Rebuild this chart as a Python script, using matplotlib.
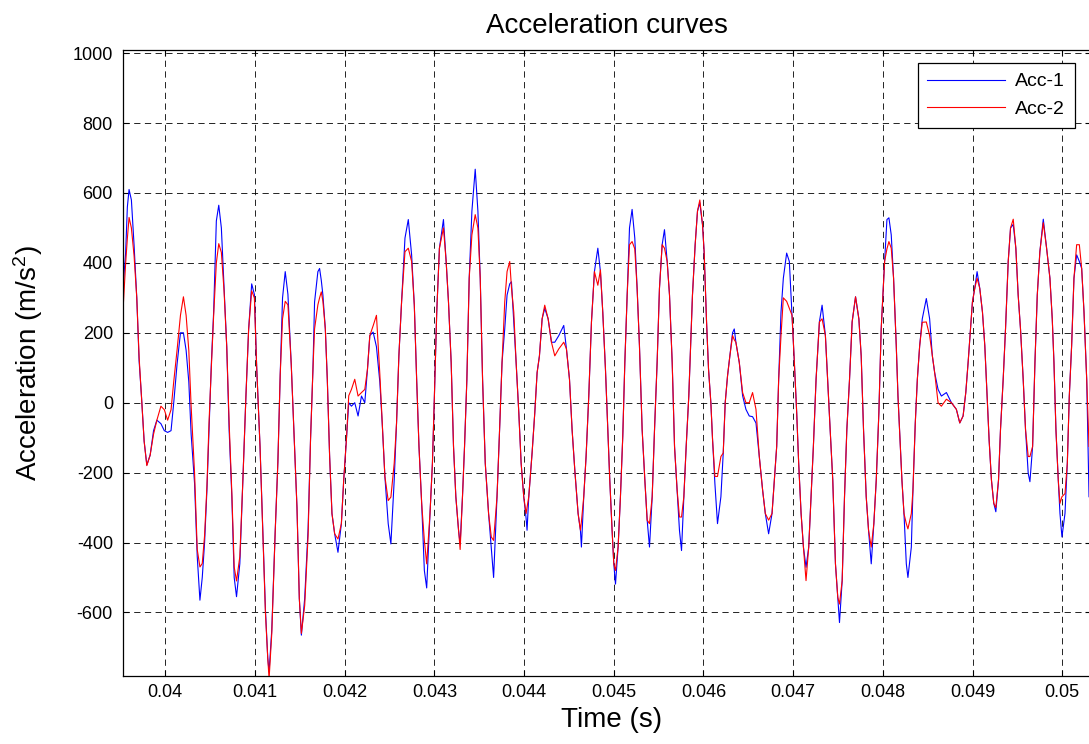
import numpy as np
import matplotlib
matplotlib.use("Agg")
import matplotlib.pyplot as plt

# time in ms; acc_1 = blue, acc_2 = red (m/s^2)
t_ms = [
    39.520, 39.532, 39.558, 39.577, 39.596, 39.622, 39.652, 39.682, 39.708, 39.734,
    39.764, 39.794, 39.831, 39.869, 39.906, 39.951, 39.989, 40.026, 40.064, 40.094,
    40.131, 40.169, 40.202, 40.232, 40.262, 40.288, 40.326, 40.356, 40.386, 40.412,
    40.438, 40.464, 40.487, 40.513, 40.539, 40.569, 40.596, 40.625, 40.655, 40.685,
    40.712, 40.742, 40.768, 40.794, 40.831, 40.865, 40.899, 40.929, 40.963, 40.993,
    41.019, 41.056, 41.086, 41.116, 41.142, 41.157, 41.187, 41.225, 41.255, 41.281,
    41.307, 41.337, 41.367, 41.404, 41.434, 41.468, 41.494, 41.517, 41.554, 41.592,
    41.619, 41.646, 41.664, 41.701, 41.720, 41.739, 41.757, 41.784, 41.806, 41.832,
    41.858, 41.888, 41.925, 41.963, 41.989, 42.019, 42.045, 42.075, 42.112, 42.149,
    42.187, 42.224, 42.254, 42.280, 42.317, 42.354, 42.392, 42.418, 42.448, 42.485,
    42.515, 42.552, 42.578, 42.604, 42.634, 42.672, 42.709, 42.746, 42.776, 42.802,
    42.828, 42.858, 42.888, 42.914, 42.951, 42.978, 43.000, 43.026, 43.056, 43.101,
    43.131, 43.157, 43.187, 43.213, 43.239, 43.269, 43.287, 43.313, 43.336, 43.362,
    43.388, 43.418, 43.455, 43.485, 43.511, 43.537, 43.567, 43.604, 43.634, 43.660,
    43.698, 43.724, 43.754, 43.784, 43.810, 43.840, 43.859, 43.885, 43.911, 43.941,
    43.967, 43.996, 44.022, 44.033, 44.052, 44.089, 44.119, 44.145, 44.171, 44.201,
    44.230, 44.268, 44.305, 44.342, 44.387, 44.442, 44.472, 44.506, 44.535, 44.565,
    44.602, 44.628, 44.639, 44.665, 44.691, 44.721, 44.751, 44.784, 44.822, 44.851,
    44.877, 44.907, 44.933, 44.955, 44.981, 45.000, 45.019, 45.048, 45.074, 45.100,
    45.123, 45.149, 45.175, 45.204, 45.234, 45.260, 45.286, 45.316, 45.346, 45.372,
    45.398, 45.428, 45.454, 45.483, 45.509, 45.539, 45.565, 45.595, 45.621, 45.651,
    45.677, 45.706, 45.732, 45.755, 45.781, 45.807, 45.836, 45.877, 45.907, 45.933,
    45.959, 45.989, 46.007, 46.034, 46.056, 46.082, 46.101, 46.127, 46.156, 46.194,
    46.220, 46.242, 46.268, 46.294, 46.324, 46.343, 46.361, 46.399, 46.436, 46.473,
    46.510, 46.547, 46.585, 46.622, 46.659, 46.689, 46.726, 46.764, 46.790, 46.816,
    46.838, 46.864, 46.890, 46.927, 46.957, 46.987, 47.013, 47.039, 47.061, 47.088,
    47.114, 47.143, 47.173, 47.199, 47.225, 47.255, 47.292, 47.322, 47.359, 47.385,
    47.412, 47.441, 47.471, 47.497, 47.516, 47.546, 47.572, 47.598, 47.628, 47.657,
    47.695, 47.732, 47.758, 47.784, 47.814, 47.840, 47.870, 47.899, 47.926, 47.955,
    47.981, 48.019, 48.045, 48.067, 48.093, 48.119, 48.149, 48.168, 48.186, 48.212,
    48.235, 48.261, 48.279, 48.317, 48.335, 48.361, 48.384, 48.410, 48.439, 48.484,
    48.521, 48.551, 48.577, 48.615, 48.652, 48.708, 48.764, 48.819, 48.857, 48.894,
    48.924, 48.950, 48.976, 48.998, 49.024, 49.050, 49.080, 49.110, 49.136, 49.162,
    49.184, 49.210, 49.236, 49.259, 49.289, 49.311, 49.341, 49.367, 49.397, 49.423,
    49.453, 49.482, 49.508, 49.534, 49.564, 49.590, 49.620, 49.639, 49.669, 49.695,
    49.721, 49.750, 49.788, 49.825, 49.862, 49.888, 49.907, 49.929, 49.955, 49.974,
    49.996, 50.030, 50.056, 50.078, 50.104, 50.130, 50.160, 50.190, 50.216, 50.242,
    50.272, 50.298,
]

acc_1 = [
    180, 340, 430, 560, 610, 580, 450, 300, 120, 20,
    -110, -178, -150, -80, -50, -60, -80, -85, -80, 0,
    110, 200, 200, 150, 60, -90, -230, -440, -565, -500,
    -400, -250, -80, 110, 260, 520, 565, 500, 330, 160,
    -80, -270, -500, -555, -460, -220, 20, 210, 340, 310,
    100, -125, -360, -590, -730, -770, -650, -370, -170, 80,
    300, 375, 310, 110, -80, -300, -560, -665, -560, -360,
    -106, 96, 288, 375, 384, 350, 308, 211, 67, -154,
    -317, -375, -428, -346, -221, -106, 0, -10, 0, -38,
    19, 0, 96, 192, 202, 160, 58, -58, -211, -346,
    -404, -221, -58, 134, 288, 471, 524, 423, 279, 67,
    -125, -288, -480, -530, -317, -173, 19, 259, 442, 524,
    404, 288, 115, -125, -269, -365, -404, -269, -125, 67,
    356, 548, 668, 548, 356, 67, -173, -317, -413, -500,
    -269, -96, 115, 211, 308, 340, 346, 231, 115, -29,
    -173, -269, -330, -365, -269, -144, -29, 86, 134, 240,
    270, 240, 173, 173, 192, 221, 154, 67, -77, -192,
    -317, -365, -413, -269, -154, 19, 231, 375, 442, 375,
    259, 96, -77, -221, -365, -461, -519, -413, -269, -96,
    115, 308, 500, 553, 471, 327, 163, -77, -221, -336,
    -413, -269, -77, 115, 327, 452, 495, 404, 308, 115,
    -125, -250, -365, -423, -269, -125, 19, 308, 452, 548,
    572, 509, 432, 231, 96, 0, -106, -231, -346, -269,
    -144, 0, 77, 134, 200, 211, 173, 115, 20, -19,
    -38, -40, -58, -154, -250, -317, -375, -317, -221, -125,
    67, 259, 356, 428, 404, 250, 115, -29, -173, -317,
    -413, -471, -413, -269, -125, 67, 231, 279, 192, 58,
    -77, -221, -461, -557, -629, -509, -269, -77, 67, 231,
    303, 240, 134, -77, -269, -365, -461, -346, -221, -29,
    211, 404, 524, 529, 480, 356, 163, 19, -77, -221,
    -317, -461, -500, -413, -250, -58, 67, 163, 240, 298,
    240, 134, 86, 38, 19, 29, 0, -19, -58, -38,
    29, 115, 211, 288, 327, 375, 327, 259, 163, 19,
    -106, -221, -288, -312, -221, -77, 67, 211, 404, 500,
    510, 442, 308, 211, 67, -77, -202, -226, -125, 115,
    308, 432, 525, 442, 356, 240, 115, -77, -221, -317,
    -384, -317, -173, 19, 163, 356, 423, 404, 384, 259,
    67, -269,
]

acc_2 = [
    0, 280, 400, 470, 530, 500, 420, 300, 130, 20,
    -110, -180, -150, -90, -50, -10, -20, -50, -20, 60,
    150, 250, 303, 250, 150, -10, -200, -420, -470, -460,
    -380, -240, -60, 100, 250, 400, 455, 430, 320, 160,
    -60, -260, -470, -510, -440, -220, 20, 210, 320, 300,
    100, -125, -360, -600, -730, -790, -660, -370, -170, 80,
    240, 290, 280, 110, -80, -300, -560, -660, -580, -380,
    -106, 96, 211, 280, 300, 317, 290, 211, 67, -154,
    -317, -375, -390, -346, -221, -106, 20, 38, 67, 19,
    29, 38, 96, 192, 220, 250, 80, -58, -211, -280,
    -270, -173, -58, 134, 288, 432, 442, 404, 279, 67,
    -125, -288, -394, -461, -317, -173, 19, 259, 442, 500,
    404, 288, 115, -125, -269, -365, -420, -269, -125, 67,
    356, 480, 538, 500, 356, 67, -173, -317, -384, -394,
    -269, -96, 115, 288, 375, 404, 330, 259, 115, -29,
    -173, -269, -317, -300, -269, -144, -29, 86, 134, 240,
    279, 240, 173, 134, 154, 173, 154, 67, -77, -192,
    -317, -365, -340, -269, -154, 19, 231, 375, 336, 380,
    259, 96, -77, -221, -365, -461, -480, -413, -269, -96,
    115, 308, 452, 461, 440, 327, 163, -77, -221, -336,
    -346, -269, -77, 115, 327, 452, 442, 404, 308, 115,
    -125, -250, -327, -327, -269, -125, 19, 308, 452, 548,
    580, 509, 432, 231, 96, 0, -106, -211, -211, -154,
    -144, 0, 77, 134, 192, 180, 173, 115, 29, 0,
    0, 29, -19, -154, -250, -317, -336, -317, -221, -125,
    67, 192, 300, 290, 270, 250, 115, -29, -173, -317,
    -413, -509, -413, -269, -125, 67, 231, 240, 192, 58,
    -77, -221, -461, -557, -576, -509, -269, -77, 67, 231,
    303, 240, 134, -77, -269, -365, -413, -346, -221, -29,
    211, 404, 440, 461, 442, 356, 163, 19, -77, -221,
    -317, -346, -361, -317, -250, -58, 67, 163, 230, 231,
    192, 134, 86, 0, -10, 10, 0, -19, -58, -38,
    29, 115, 211, 288, 327, 356, 327, 259, 163, 19,
    -106, -221, -288, -300, -221, -77, 67, 211, 404, 500,
    525, 442, 308, 211, 67, -77, -154, -154, -125, 115,
    308, 432, 515, 442, 356, 240, 115, -77, -221, -288,
    -269, -260, -173, 19, 163, 356, 452, 452, 384, 259,
    67, -125,
]

x_ticks = [0.040, 0.041, 0.042, 0.043, 0.044, 0.045, 0.046, 0.047, 0.048, 0.049, 0.050]
x_labels = ['0.04', '0.041', '0.042', '0.043', '0.044', '0.045',
            '0.046', '0.047', '0.048', '0.049', '0.05']
y_ticks = [-600, -400, -200, 0, 200, 400, 600, 800, 1000]

t = np.array(t_ms) / 1000.0

plt.rcParams['font.family'] = ['Liberation Sans', 'DejaVu Sans']
plt.rcParams['mathtext.default'] = 'regular'
plt.rcParams['axes.unicode_minus'] = False
plt.rcParams['lines.scale_dashes'] = False

W, H = 1089, 744
fig = plt.figure(figsize=(W / 100, H / 100), dpi=100)
left, right, top, bottom = 123.3, 1091.0, 50.0, 676.0
ax = fig.add_axes([left / W, (H - bottom) / H, (right - left) / W, (bottom - top) / H])

ax.plot(t, acc_1, color=(0, 0, 1), lw=0.8, label='Acc-1')
ax.plot(t, acc_2, color=(1, 0, 0), lw=0.8, label='Acc-2')

# limits from the pixel positions of the grid lines
x0 = 0.04 + (left - 165.3) / 89700
x1 = 0.04 + (right - 165.3) / 89700
ax.set_xlim(x0, x1)
ax.set_ylim(-(bottom - 402.7) * 2.861, (402.7 - top) * 2.861)

ax.set_xticks(x_ticks)
ax.set_xticklabels(x_labels)
ax.set_yticks(y_ticks)
ax.tick_params(direction='in', top=True, right=True, length=4, width=0.8,
               labelsize=13, color='k')
ax.tick_params(axis='y', pad=7.5)
ax.tick_params(axis='x', pad=6)
ax.grid(True, color='k', lw=0.6, ls=(0, (4.5, 3.2)))
for s in ax.spines.values():
    s.set_linewidth(0.9)

ax.set_title('Acceleration curves', fontsize=20, pad=12)
ax.set_xlabel('Time (s)', fontsize=20)
ax.set_ylabel('Acceleration (m/s$^2$)', fontsize=20)
ax.xaxis.set_label_coords(0.505, -0.050)
ax.yaxis.set_label_coords(-0.081, 0.5)

leg = ax.legend(loc='upper right', bbox_to_anchor=(0.983, 0.979), borderaxespad=0,
                fontsize=14, fancybox=False, framealpha=1, edgecolor='k',
                handlelength=4.0, handletextpad=0.5, borderpad=0.5, labelspacing=0.5)
leg.get_frame().set_linewidth(0.9)

fig.savefig('out.png', dpi=100)
